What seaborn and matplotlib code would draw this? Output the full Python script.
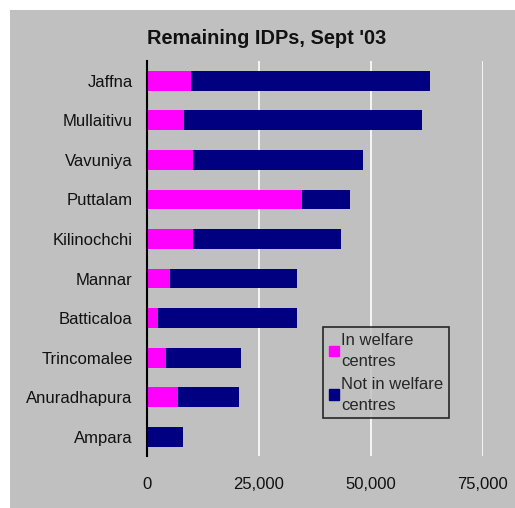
import matplotlib
matplotlib.use('Agg')
import matplotlib.pyplot as plt
import matplotlib.patches as mpatches
import seaborn as sns
import pandas as pd

# data
districts = ['Jaffna', 'Mullaitivu', 'Vavuniya', 'Puttalam', 'Kilinochchi',
             'Mannar', 'Batticaloa', 'Trincomalee', 'Anuradhapura', 'Ampara']
in_welfare = [9900, 8300, 10300, 34600, 10300, 5200, 2500, 4200, 6900, 0]
not_in_welfare = [53300, 53100, 37900, 10900, 33100, 28400, 31100, 16900, 13600, 8200]
x_ticks = [0, 25000, 50000, 75000]
x_ticklabels = ['0', '25,000', '50,000', '75,000']

df = pd.DataFrame({'District': districts, 'In': in_welfare, 'Not': not_in_welfare})
df['Total'] = df['In'] + df['Not']

GREY = '#c0c0c0'
MAGENTA = '#ff00ff'
NAVY = '#000080'

sns.set_style('white')
plt.rcParams['font.family'] = ['Liberation Sans', 'DejaVu Sans']

fig = plt.figure(figsize=(5.15, 5.08), dpi=100)
fig.patch.set_facecolor('white')
bg = mpatches.Rectangle((10 / 515, 0), 505 / 515, 498 / 508,
                        transform=fig.transFigure, facecolor=GREY,
                        edgecolor='none', zorder=-5)
fig.patches.append(bg)

ax = fig.add_axes([0.2849, 0.1014, 0.652, 0.7785])
ax.set_zorder(2)
ax.set_facecolor(GREY)

sns.barplot(data=df, x='Total', y='District', color=NAVY, width=0.5,
            saturation=1, linewidth=0, ax=ax, zorder=3)
sns.barplot(data=df, x='In', y='District', color=MAGENTA, width=0.5,
            saturation=1, linewidth=0, ax=ax, zorder=4)

ax.set_xlim(0, 75000)
ax.set_xticks(x_ticks)
ax.set_xticklabels(x_ticklabels)
ax.xaxis.grid(True, color='white', linewidth=1.2, zorder=1)
ax.set_axisbelow(True)
ax.set_xlabel('')
ax.set_ylabel('')
ax.tick_params(axis='both', length=0, labelsize=12, colors='#111111')
ax.tick_params(axis='y', pad=10)
ax.tick_params(axis='x', pad=15)

for s in ['top', 'right', 'bottom']:
    ax.spines[s].set_visible(False)
ax.spines['left'].set_color('black')
ax.spines['left'].set_linewidth(1.5)
ax.spines['left'].set_zorder(6)

fig.text(266.7 / 515, 1 - 38 / 508, "Remaining IDPs, Sept '03", ha='center', va='center',
         fontsize=14.4, fontweight='bold', color='#111111', zorder=5)

handles = [mpatches.Patch(color=MAGENTA, label='In welfare\ncentres'),
           mpatches.Patch(color=NAVY, label='Not in welfare\ncentres')]
leg = ax.legend(handles=handles, loc='upper left', bbox_to_anchor=(0.525, 0.327),
                borderaxespad=0, frameon=True, fancybox=False, fontsize=12,
                handlelength=0.6, handleheight=0.6, handletextpad=0.15,
                borderpad=0.35, labelspacing=0.45)
for t in leg.get_texts():
    t.set_linespacing(1.5)
leg.get_frame().set_facecolor(GREY)
leg.get_frame().set_edgecolor('black')
leg.get_frame().set_linewidth(1.2)
leg.set_zorder(10)

fig.savefig('out.png', dpi=100)
